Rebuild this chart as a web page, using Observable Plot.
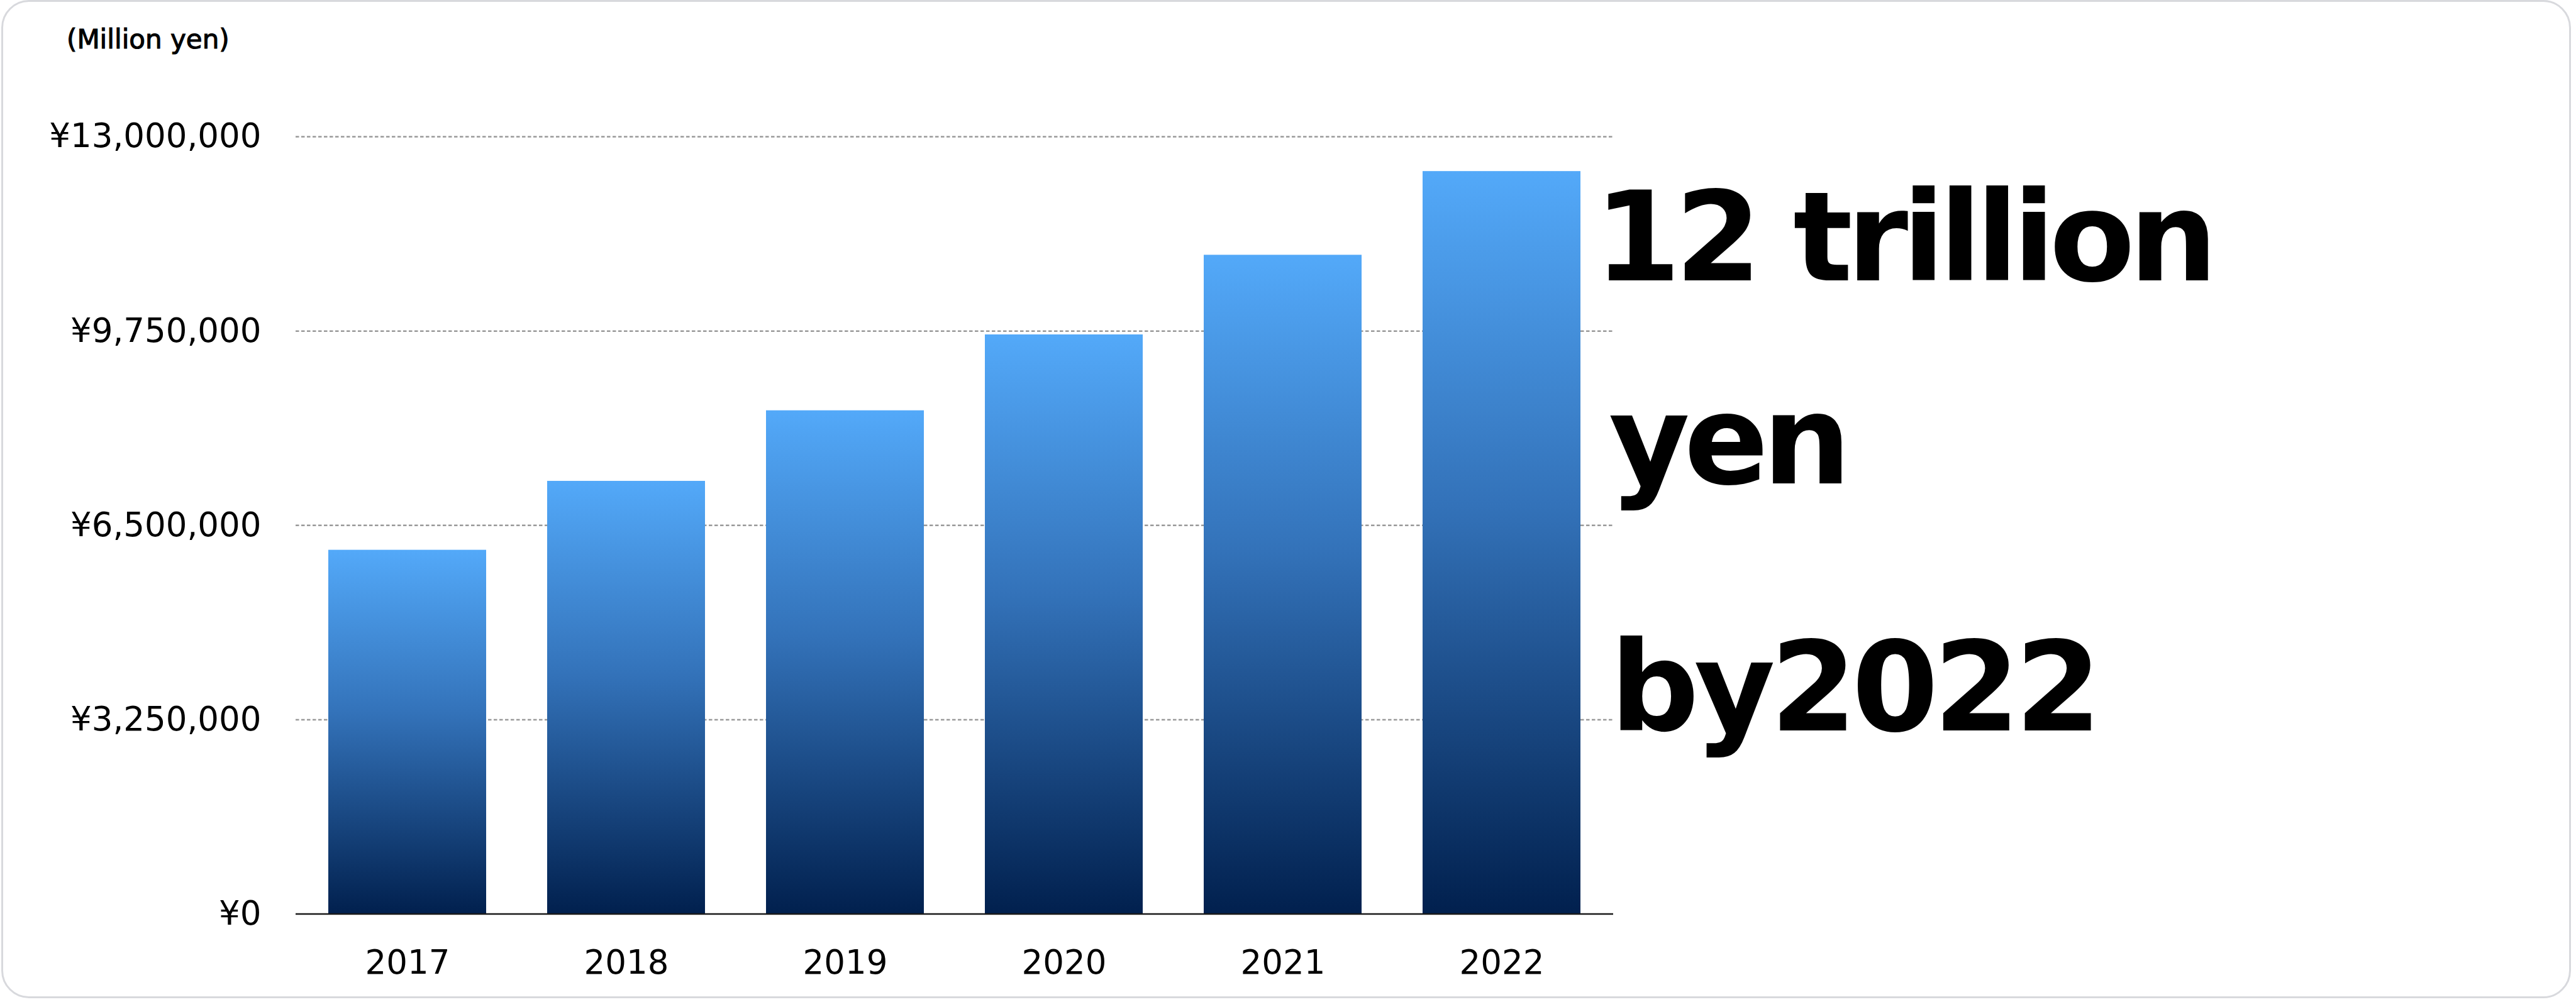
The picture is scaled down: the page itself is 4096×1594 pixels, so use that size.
<!DOCTYPE html>
<html><head><meta charset="utf-8">
<script src="https://cdn.jsdelivr.net/npm/d3@7"></script>
<script src="https://cdn.jsdelivr.net/npm/@observablehq/plot@0.6"></script>
<style>
html,body{margin:0;padding:0;background:#fff;width:4096px;height:1594px;overflow:hidden;}
#card{position:absolute;left:2px;top:0px;width:4080px;height:1582px;border:3px solid #d8d9dd;border-radius:44px;background:#fff;}
#chart{position:absolute;left:0;top:0;}
#overlay{position:absolute;left:0;top:0;}
</style></head><body>
<div id="card"></div>
<div id="chart"></div>
<svg id="overlay" width="4096" height="1594"></svg>
<script>
const years = ["2017", "2018", "2019", "2020", "2021", "2022"];
const values = [6086000, 7239000, 8419000, 9688000, 11020000, 12420000];
const yTicks = [0, 3250000, 6500000, 9750000, 13000000];
const unitLabel = "(Million yen)";
const headline = ["12 trillion", "yen", "by2022"];

const data = years.map((year, i) => ({year, value: values[i]}));

const plot = Plot.plot({
  width: 4096,
  height: 1594,
  marginLeft: 470,
  marginRight: 1531,
  marginTop: 217,
  marginBottom: 140.5,
  style: {fontFamily: "'DejaVu Sans', Verdana, sans-serif", fontSize: "53px", background: "transparent", color: "#000", overflow: "visible"},
  x: {domain: years, paddingInner: 0.28, paddingOuter: 0.15, label: null},
  y: {domain: [0, 13000000], label: null},
  marks: [
    Plot.ruleY(yTicks.filter(d => d > 0), {stroke: "#9a9a9a", strokeWidth: 2.5, strokeDasharray: "5.5,3.5"}),
    Plot.barY(data, {x: "year", y: "value", fill: "url(#barGrad)"}),
    Plot.ruleY([0], {stroke: "#1a1a1a", strokeWidth: 2.6}),
    Plot.axisY({ticks: yTicks, tickFormat: d => "¥" + d3.format(",")(d), tickSize: 0, tickPadding: 55, label: null}),
    Plot.axisX({tickSize: 0, tickPadding: 57, label: null})
  ]
});
document.getElementById("chart").appendChild(plot);

const svg = d3.select(plot);
const defs = svg.insert("defs", ":first-child");
const grad = defs.append("linearGradient").attr("id", "barGrad")
  .attr("x1", 0).attr("y1", 0).attr("x2", 0).attr("y2", 1);
grad.append("stop").attr("offset", "0%").attr("stop-color", "#53a9f9");
grad.append("stop").attr("offset", "45%").attr("stop-color", "#3372b9");
grad.append("stop").attr("offset", "100%").attr("stop-color", "#01204e");

const ov = d3.select("#overlay");
ov.append("text")
  .attr("x", 106).attr("y", 77)
  .attr("font-family", "'DejaVu Sans', sans-serif")
  .attr("font-size", 42)
  .attr("fill", "#000")
  .attr("stroke", "#000").attr("stroke-width", 1.1)
  .text(unitLabel);

const hx = [2535, 2558, 2560];
const hy = [446, 769, 1162];
const hls = [-9.4, -9.4, -8];
headline.forEach((t, i) => {
  ov.append("text")
    .attr("x", hx[i]).attr("y", hy[i])
    .attr("font-family", "'DejaVu Sans', sans-serif")
    .attr("font-weight", "bold")
    .attr("font-size", 198)
    .attr("letter-spacing", hls[i] + "px")
    .attr("fill", "#000")
    .text(t);
});
</script>
</body></html>
